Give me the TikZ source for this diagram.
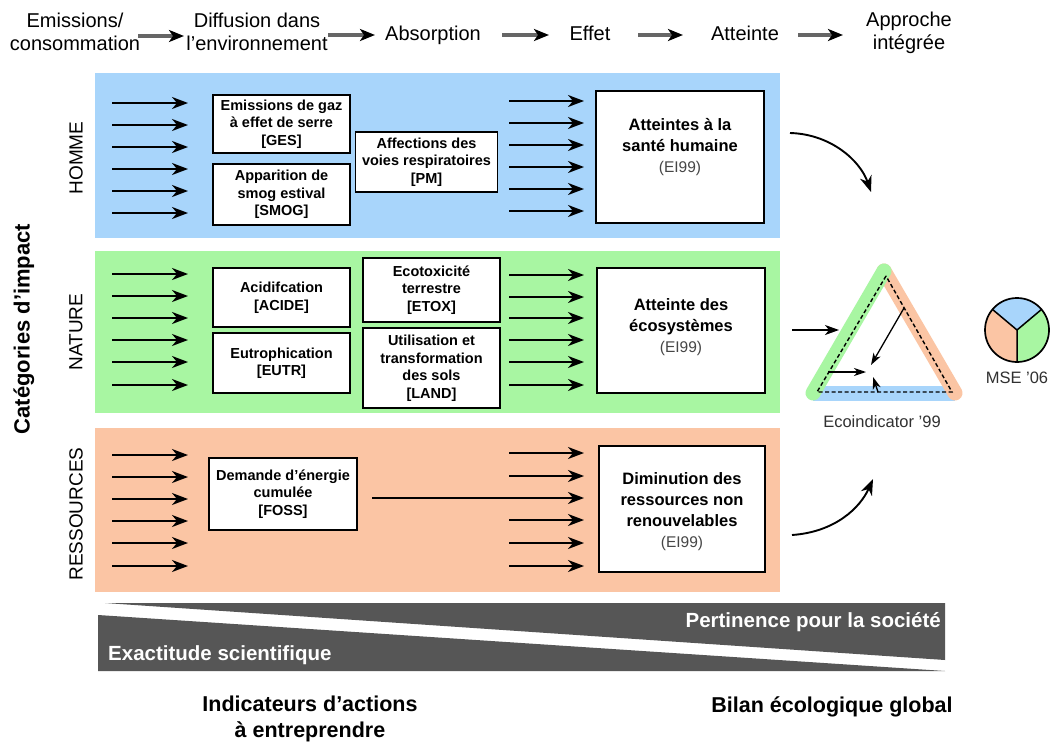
\documentclass[tikz,border=0pt]{standalone}
\usepackage{fontspec}
\setmainfont{Liberation Sans}
\usetikzlibrary{arrows.meta}
\definecolor{bandblue}{RGB}{168,213,251}
\definecolor{bandgreen}{RGB}{168,246,162}
\definecolor{bandorange}{RGB}{251,197,164}
\definecolor{bardark}{RGB}{86,86,86}
\definecolor{txtgray}{RGB}{70,70,70}
\newcommand\eitext[1]{{\mdseries\fontsize{15.5}{21}\selectfont\color{txtgray}#1}}
\begin{document}
\begin{tikzpicture}[x=1pt,y=-1pt,
  arr/.style={line width=1.9pt,-{Stealth[length=16pt,width=12pt,inset=5pt]}},
  thinarr/.style={line width=1.3pt,-{Stealth[length=12pt,width=8pt,inset=3.5pt]}},
  hdr/.style={font=\fontsize{20}{23}\selectfont,align=center,inner sep=0pt},
  hdrarrow/.style={draw=black!60,line width=3.6pt,-{Stealth[length=15pt,width=12pt,inset=4pt,black]}},
  boxframe/.style={draw=black,line width=1.7pt,fill=white,inner sep=0pt},
  smallbox/.style={draw=black,line width=1.7pt,fill=white,align=center,inner sep=1pt,
    font=\bfseries\fontsize{14.5}{17.5}\selectfont},
  bigtext/.style={align=center,inner sep=0pt,font=\bfseries\fontsize{16.5}{21}\selectfont},
  sidelabel/.style={rotate=90,font=\fontsize{19}{22}\selectfont,inner sep=0pt}
]
\useasboundingbox[fill=white] (0,0) rectangle (1057,744);

% ---------- header ----------
\node[hdr] (h1) at (75,32) {Emissions/\\consommation};
\node[hdr] (h2) at (257,32) {Diffusion dans\\l’environnement};
\node[hdr,anchor=base] (h3) at (433,40) {Absorption};
\node[hdr,anchor=base] (h4) at (590,40) {Effet};
\node[hdr,anchor=base] (h5) at (745,40) {Atteinte};
\node[hdr] (h6) at (909,33) {Approche\\intégrée};
\coordinate (a1s) at (138,36); \coordinate (a1e) at (184,36);
\coordinate (a2s) at (328,35); \coordinate (a2e) at (375,35);
\coordinate (a3s) at (502,35); \coordinate (a3e) at (549,35);
\coordinate (a4s) at (638,35); \coordinate (a4e) at (683,35);
\coordinate (a5s) at (798,35); \coordinate (a5e) at (843,35);
\foreach \i in {1,...,5} {\draw[hdrarrow] (a\i s) -- (a\i e);}

% ---------- bands ----------
\fill[bandblue] (95,73) rectangle (780,238);
\fill[bandgreen] (95,251) rectangle (780,413);
\fill[bandorange] (95,428) rectangle (780,592);

\node[sidelabel] (lh) at (76,158) {HOMME};
\node[sidelabel] (ln) at (76,332) {NATURE};
\node[sidelabel] (lr) at (76,514) {RESSOURCES};
\node[rotate=90,font=\bfseries\fontsize{22}{26}\selectfont,inner sep=0pt] (cat) at (24,329) {Catégories d’impact};

% left arrows
\foreach \y in {103,125,147,169,191,213, 274,296,318,340,362,385, 455,477,499,521,543,566}
  {\draw[arr] (112,\y) -- (188,\y);}
% right arrows
\foreach \y in {101,123,145,167,189,211, 275,297,318,340,362,385, 453,476,520,543,566}
  {\draw[arr] (509,\y) -- (584,\y);}

% boxes HOMME
\node[smallbox,minimum width=137pt,minimum height=58pt] (ges) at (281.5,124) {Emissions de gaz\\à effet de serre\\{[GES]}};
\node[smallbox,minimum width=137pt,minimum height=61pt] (smog) at (281.5,194.5) {Apparition de\\smog estival\\{[SMOG]}};
\node[smallbox,minimum width=142pt,minimum height=60pt] (pm) at (426.5,162) {Affections des\\voies respiratoires\\{[PM]}};
\node[boxframe,minimum width=168pt,minimum height=132pt] (sante) at (680,157) {};
\node[bigtext] (santet) at (680,147) {Atteintes à la\\santé humaine\\\eitext{(EI99)}};

% boxes NATURE
\node[smallbox,minimum width=137pt,minimum height=59pt] (acide) at (281.5,297.5) {Acidifcation\\{[ACIDE]}};
\node[smallbox,minimum width=137pt,minimum height=60pt] (eutr) at (281.5,363) {Eutrophication\\{[EUTR]}};
\node[smallbox,minimum width=137pt,minimum height=64pt] (etox) at (431.5,290) {Ecotoxicité\\terrestre\\{[ETOX]}};
\node[smallbox,minimum width=137pt,minimum height=80pt] (land) at (431.5,368) {Utilisation et\\transformation\\des sols\\{[LAND]}};
\node[boxframe,minimum width=168pt,minimum height=125pt] (eco) at (681,330.5) {};
\node[bigtext] (ecot) at (681,327) {Atteinte des\\écosystèmes\\\eitext{(EI99)}};

% boxes RESSOURCES
\node[smallbox,minimum width=148pt,minimum height=72pt] (foss) at (283,494) {Demande d’énergie\\cumulée\\{[FOSS]}};
\node[boxframe,minimum width=166pt,minimum height=126pt] (dim) at (682,509) {};
\node[bigtext] (dimt) at (682,512) {Diminution des\\ressources non\\renouvelables\\\eitext{(EI99)}};
\coordinate (fs) at (372,498);
\coordinate (fe) at (584,498);
\draw[arr] (fs) -- (fe);

% ---------- right part ----------
\coordinate (c1s) at (790,133); \coordinate (c1e) at (871,192);
\draw[arr] (c1s) .. controls (830,134) and (860,160) .. (c1e);
\coordinate (c2s) at (792,535); \coordinate (c2e) at (873,479);
\draw[arr] (c2s) .. controls (835,532) and (860,508) .. (c2e);

% triangle
\coordinate (tA) at (884,271);
\coordinate (tL) at (813,393);
\coordinate (tR) at (955,393);
\draw[bandblue,line width=15pt] (tL) -- (tR);
\draw[bandorange,line width=15pt,line cap=round] (tA) -- (tR);
\draw[bandgreen,line width=15pt,line cap=round] (tL) -- (tA);
\coordinate (dA) at (886,276);
\coordinate (dL) at (817,392);
\coordinate (dR) at (952,392);
\draw[line width=1.4pt,dash pattern=on 4pt off 2.5pt] (dA) -- (dL) -- (dR) -- cycle;
\coordinate (in1s) at (904,308); \coordinate (in1e) at (871,365);
\coordinate (in2s) at (828,372); \coordinate (in2e) at (866,372);
\coordinate (in3s) at (878,392); \coordinate (in3e) at (873,377);
\draw[thinarr] (in1s) -- (in1e);
\draw[thinarr] (in2s) -- (in2e);
\draw[thinarr] (in3s) -- (in3e);
\coordinate (gs) at (792,330); \coordinate (ge) at (839,330);
\draw[line width=1.6pt,-{Stealth[length=14pt,width=10pt,inset=4pt]}] (gs) -- (ge);
\node[font=\fontsize{16.5}{20}\selectfont,text=txtgray!70!black] (eco99) at (882,422) {Ecoindicator ’99};

% pie (y axis points down: TikZ angles are mirrored)
\coordinate (pc) at (1017,330);
\fill[bandblue] (pc) -- ++(220:32) arc[start angle=220,end angle=320,radius=32] -- cycle;
\fill[bandorange] (pc) -- ++(90:32) arc[start angle=90,end angle=220,radius=32] -- cycle;
\fill[bandgreen] (pc) -- ++(-40:32) arc[start angle=-40,end angle=90,radius=32] -- cycle;
\draw[line width=1.5pt] (pc) -- ++(220:32) (pc) -- ++(320:32) (pc) -- ++(90:32);
\draw[line width=1.7pt] (pc) circle[radius=32];
\node[font=\fontsize{16.5}{20}\selectfont,text=txtgray!70!black] (mse) at (1017,378) {MSE ’06};

% ---------- bottom bar ----------
\fill[bardark] (105,603) -- (945,603) -- (945,660) -- cycle;
\fill[bardark] (98,615) -- (945,671) -- (98,671) -- cycle;
\node[anchor=east,text=white,font=\bfseries\fontsize{20.5}{24}\selectfont,inner sep=0pt] (pert) at (941,622) {Pertinence pour la société};
\node[anchor=west,text=white,font=\bfseries\fontsize{20.5}{24}\selectfont,inner sep=0pt] (exact) at (108,655) {Exactitude scientifique};

\node[align=center,font=\bfseries\fontsize{21.5}{26}\selectfont,inner sep=0pt] (ind) at (310,719) {Indicateurs d’actions\\à entreprendre};
\node[font=\bfseries\fontsize{21.5}{26}\selectfont,inner sep=0pt] (bilan) at (832,707) {Bilan écologique global};
\end{tikzpicture}
\end{document}
